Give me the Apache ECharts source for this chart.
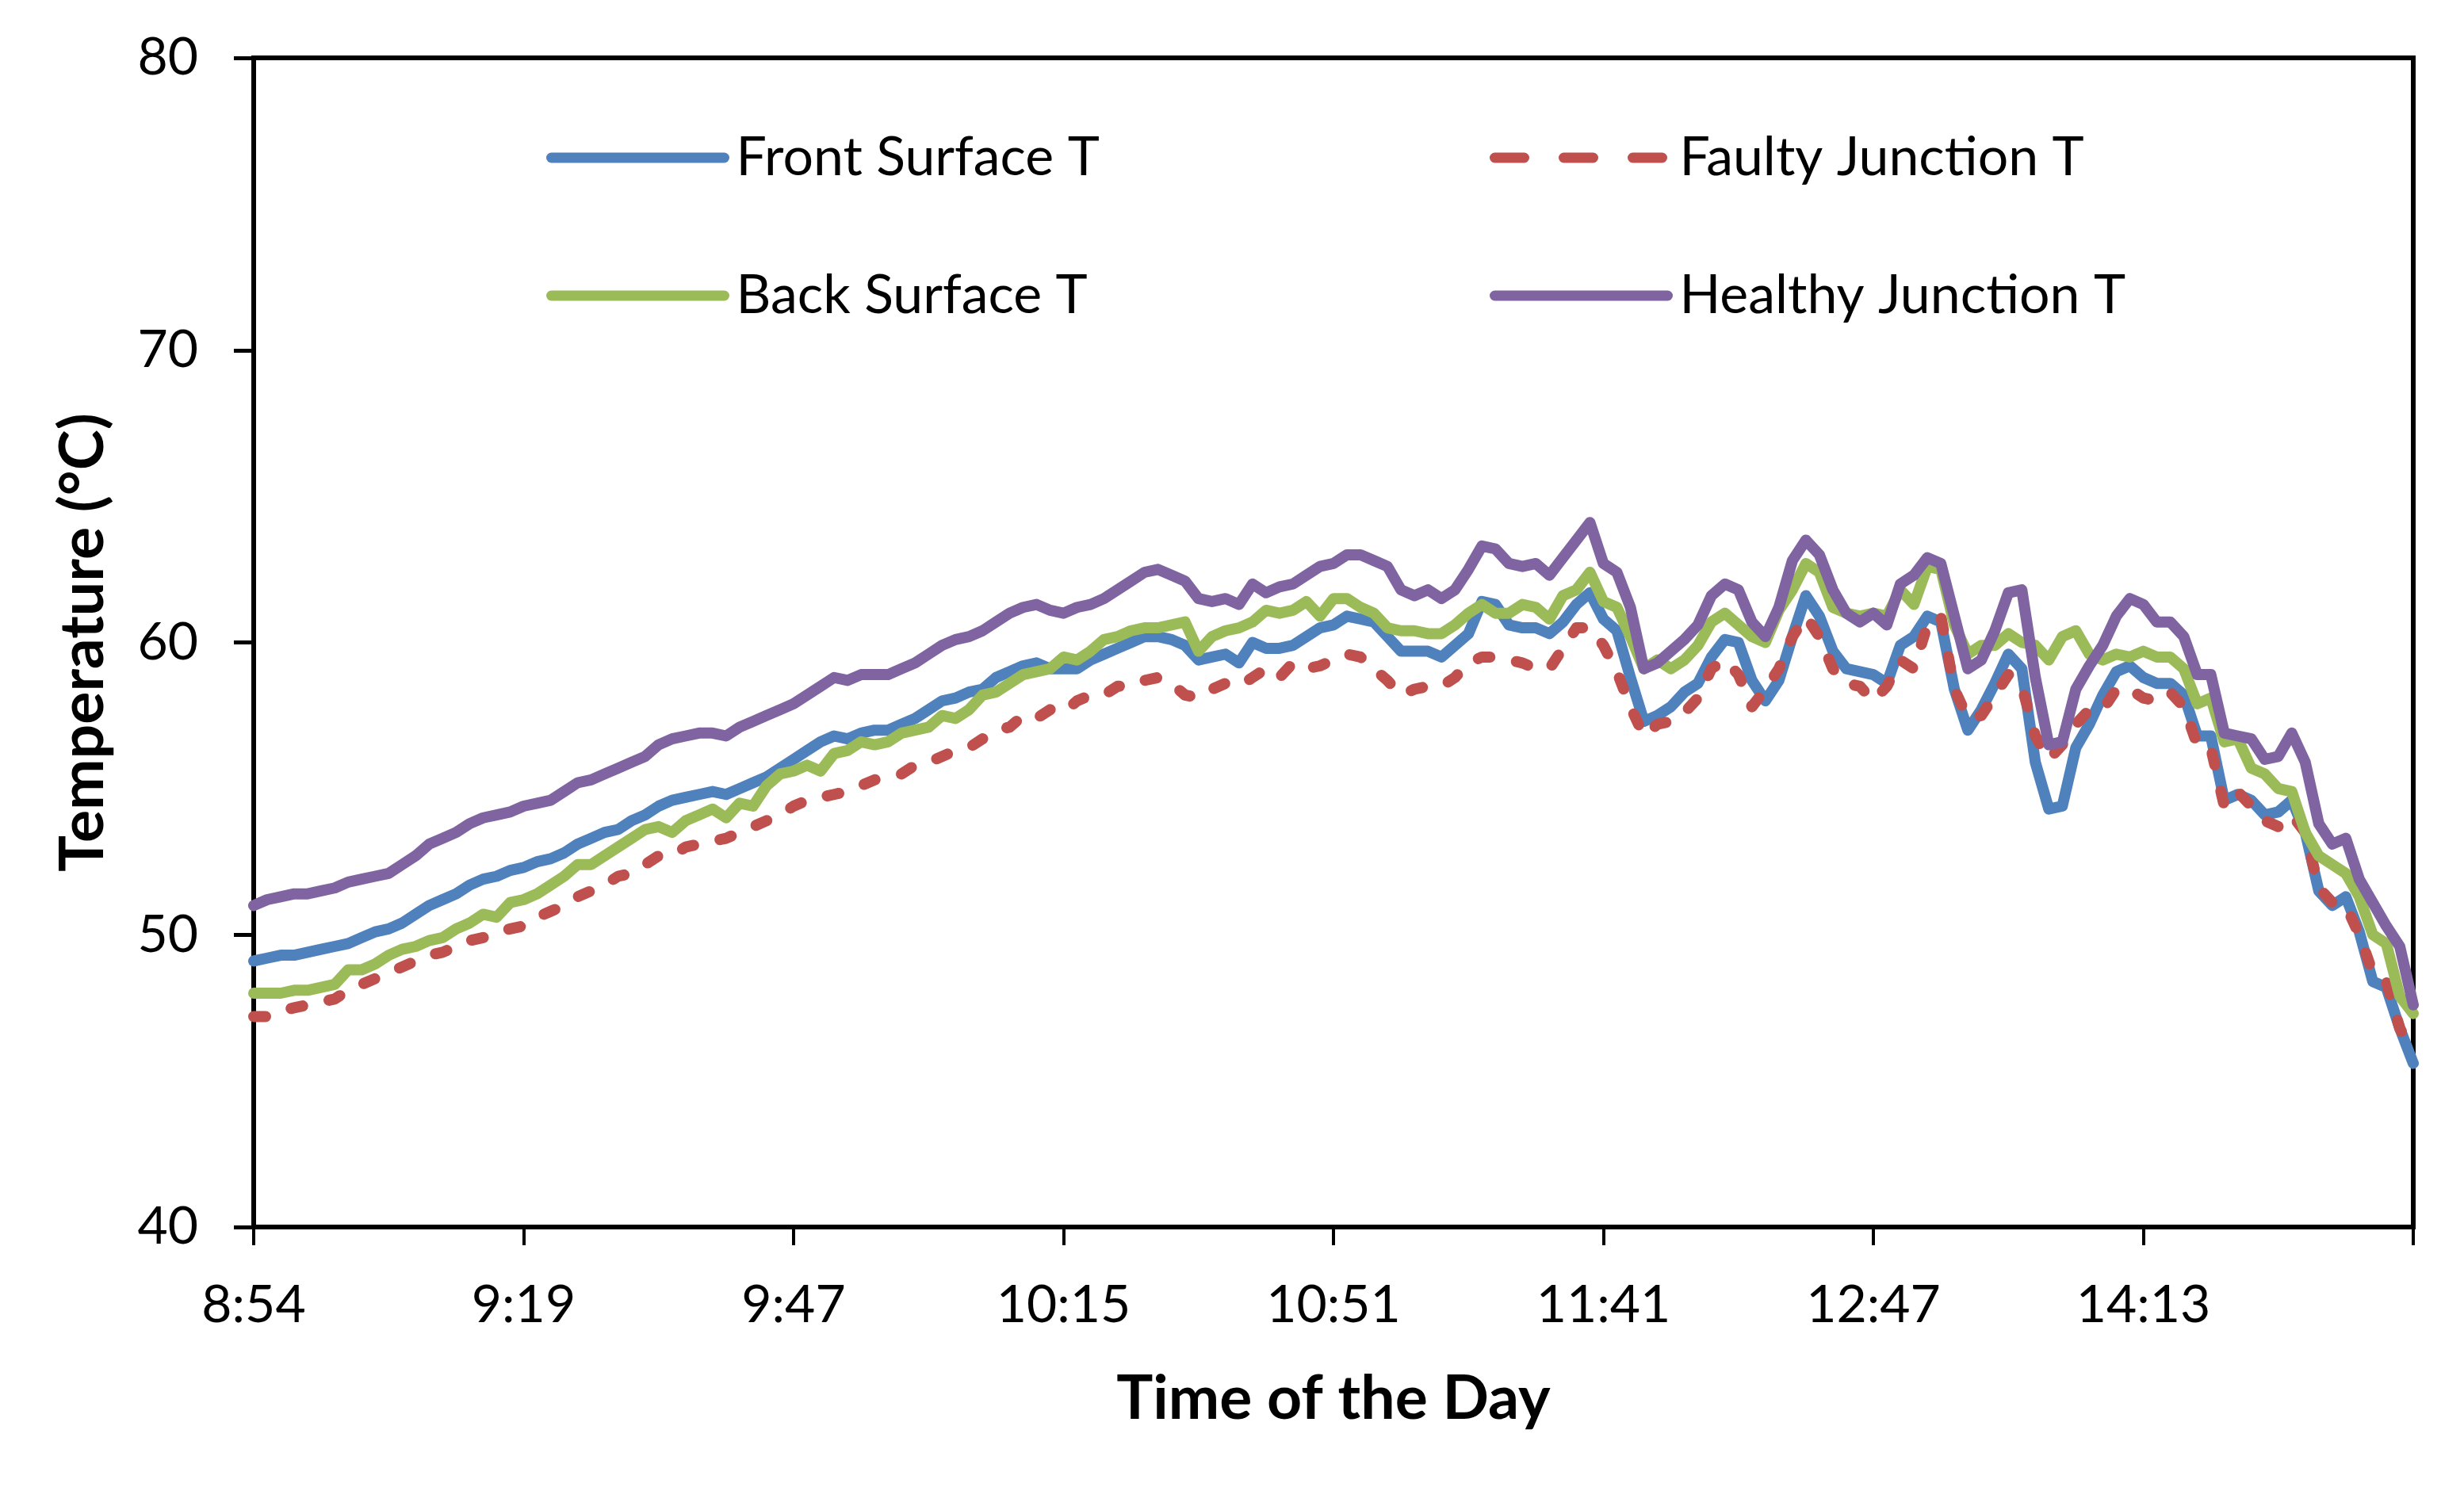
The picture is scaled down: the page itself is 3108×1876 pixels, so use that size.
<!DOCTYPE html>
<html>
<head>
<meta charset="utf-8">
<script src="https://cdn.jsdelivr.net/npm/echarts@6/dist/echarts.min.js"></script>
<style>
html,body{margin:0;padding:0;background:#fff;}
#chart{width:3108px;height:1876px;}
</style>
</head>
<body>
<div id="chart"></div>
<script>
// Tick labels shown every 20 samples along the category axis
const tickLabels = ['8:54','9:19','9:47','10:15','10:51','11:41','12:47','14:13'];
const samplesPerTick = 20;

const seriesNames = ['Front Surface T','Faulty Junction T','Back Surface T','Healthy Junction T'];

const frontSurface = [
49.1,49.2,49.3,49.3,49.4,49.5,49.6,49.7,49.9,50.1,50.2,50.4,50.7,51.0,51.2,51.4,51.7,51.9,52.0,52.2,
52.3,52.5,52.6,52.8,53.1,53.3,53.5,53.6,53.9,54.1,54.4,54.6,54.7,54.8,54.9,54.8,55.0,55.2,55.4,55.7,
56.0,56.3,56.6,56.8,56.7,56.9,57.0,57.0,57.2,57.4,57.7,58.0,58.1,58.3,58.4,58.8,59.0,59.2,59.3,59.1,
59.1,59.1,59.4,59.6,59.8,60.0,60.2,60.2,60.1,59.9,59.4,59.5,59.6,59.3,60.0,59.8,59.8,59.9,60.2,60.5,
60.6,60.9,60.8,60.7,60.2,59.7,59.7,59.7,59.5,59.9,60.3,61.4,61.3,60.6,60.5,60.5,60.3,60.7,61.3,61.7,
60.8,60.4,58.8,57.3,57.5,57.8,58.3,58.6,59.5,60.1,60.0,58.7,58.0,58.7,60.2,61.6,60.9,59.7,59.1,59.0,
58.9,58.6,59.9,60.2,60.9,60.7,58.4,57.0,57.7,58.6,59.6,59.1,55.9,54.3,54.4,56.4,57.2,58.2,59.0,59.2,
58.8,58.6,58.6,58.2,56.8,56.8,54.6,54.8,54.6,54.1,54.2,54.6,53.5,51.5,51.0,51.3,50.1,48.4,48.2,46.8,
45.6];

const faultyJunction = [
47.2,47.2,47.4,47.5,47.6,47.7,47.8,48.1,48.3,48.5,48.7,48.9,49.1,49.3,49.4,49.6,49.8,49.9,50.1,50.2,
50.3,50.6,50.8,51.0,51.3,51.5,51.7,52.0,52.1,52.4,52.7,52.7,53.0,53.1,53.2,53.3,53.5,53.7,53.9,54.1,
54.4,54.6,54.7,54.8,54.9,55.1,55.3,55.4,55.5,55.8,55.9,56.1,56.3,56.4,56.7,57.0,57.1,57.5,57.4,57.7,
57.6,58.0,58.2,58.2,58.5,58.5,58.7,58.8,58.6,58.2,58.1,58.4,58.6,58.5,58.8,59.1,58.8,59.3,59.1,59.2,
59.4,59.6,59.5,59.1,58.7,58.2,58.4,58.5,58.5,58.8,59.3,59.5,59.5,59.4,59.3,59.1,59.1,59.8,60.5,60.5,
59.9,59.0,57.8,56.8,57.2,57.3,57.6,58.1,59.1,59.4,58.9,57.8,58.4,59.1,60.2,60.9,60.2,59.1,58.6,58.5,
58.0,58.5,59.4,59.1,60.6,60.9,58.4,57.4,57.5,58.2,58.9,58.5,56.8,56.0,56.5,57.2,57.7,57.7,58.4,58.4,
58.1,58.0,58.3,57.8,56.5,56.4,54.4,54.9,54.4,53.9,53.7,54.1,53.5,51.6,51.1,51.0,50.0,48.7,48.4,46.8,
45.9];

const backSurface = [
48.0,48.0,48.0,48.1,48.1,48.2,48.3,48.8,48.8,49.0,49.3,49.5,49.6,49.8,49.9,50.2,50.4,50.7,50.6,51.1,
51.2,51.4,51.7,52.0,52.4,52.4,52.7,53.0,53.3,53.6,53.7,53.5,53.9,54.1,54.3,54.0,54.5,54.4,55.1,55.5,
55.6,55.8,55.6,56.2,56.3,56.6,56.5,56.6,56.9,57.0,57.1,57.5,57.4,57.7,58.2,58.3,58.6,58.9,59.0,59.1,
59.5,59.4,59.7,60.1,60.2,60.4,60.5,60.5,60.6,60.7,59.7,60.2,60.4,60.5,60.7,61.1,61.0,61.1,61.4,60.9,
61.5,61.5,61.2,61.0,60.5,60.4,60.4,60.3,60.3,60.6,61.0,61.3,61.0,61.0,61.3,61.2,60.8,61.6,61.8,62.4,
61.4,61.2,60.2,59.1,59.4,59.1,59.4,59.9,60.7,61.0,60.6,60.2,60.0,61.1,61.8,62.7,62.4,61.2,61.0,60.9,
61.0,60.9,61.8,61.3,62.6,62.5,60.6,59.6,59.9,59.9,60.3,60.0,59.9,59.4,60.2,60.4,59.6,59.4,59.6,59.5,
59.7,59.5,59.5,59.1,57.9,58.1,56.6,56.7,55.7,55.5,55.0,54.9,53.5,52.7,52.4,52.1,51.3,50.0,49.7,47.9,
47.3];

const healthyJunction = [
51.0,51.2,51.3,51.4,51.4,51.5,51.6,51.8,51.9,52.0,52.1,52.4,52.7,53.1,53.3,53.5,53.8,54.0,54.1,54.2,
54.4,54.5,54.6,54.9,55.2,55.3,55.5,55.7,55.9,56.1,56.5,56.7,56.8,56.9,56.9,56.8,57.1,57.3,57.5,57.7,
57.9,58.2,58.5,58.8,58.7,58.9,58.9,58.9,59.1,59.3,59.6,59.9,60.1,60.2,60.4,60.7,61.0,61.2,61.3,61.1,
61.0,61.2,61.3,61.5,61.8,62.1,62.4,62.5,62.3,62.1,61.5,61.4,61.5,61.3,62.0,61.7,61.9,62.0,62.3,62.6,
62.7,63.0,63.0,62.8,62.6,61.8,61.6,61.8,61.5,61.8,62.5,63.3,63.2,62.7,62.6,62.7,62.3,62.9,63.5,64.1,
62.7,62.4,61.2,59.1,59.3,59.7,60.1,60.6,61.6,62.0,61.8,60.7,60.2,61.2,62.8,63.5,63.0,61.8,61.0,60.7,
61.0,60.6,62.0,62.3,62.9,62.7,60.9,59.1,59.4,60.4,61.7,61.8,58.8,56.5,56.6,58.4,59.2,59.9,60.9,61.5,
61.3,60.7,60.7,60.2,58.9,58.9,56.9,56.8,56.7,56.0,56.1,56.9,55.9,53.8,53.1,53.3,51.9,51.1,50.3,49.6,
47.6];

const colors = ['#4F81BD','#C0504D','#9BBB59','#8064A2'];
const categories = frontSurface.map((_, i) => String(i));
const FONT = 'Lato';
const LINE_W = 14;

const chart = echarts.init(document.getElementById('chart'), null, {renderer: 'canvas'});

function lineSeries(name, data, color, dashed) {
  return {
    name: name,
    type: 'line',
    data: data,
    symbol: 'none',
    showSymbol: false,
    smooth: false,
    animation: false,
    lineStyle: {
      color: color,
      width: LINE_W,
      type: dashed ? [15, 34] : 'solid',
      cap: 'round',
      join: 'round'
    },
    itemStyle: {color: color},
    emphasis: {disabled: true}
  };
}

function legendItem(i, dashed) {
  return {
    name: seriesNames[i],
    itemStyle: {opacity: 0, borderWidth: 0},
    lineStyle: {color: colors[i], width: 13, type: dashed ? [37, 50] : 'solid', cap: 'round', opacity: 1}
  };
}

const legendCommon = {
  orient: 'vertical',
  itemWidth: 218,
  itemHeight: 26,
  itemGap: 106,
  textStyle: {fontFamily: FONT, fontSize: 68, color: '#000', padding: [0,0,0,10]},
  selectedMode: false
};

chart.setOption({
  animation: false,
  backgroundColor: '#fff',
  color: colors,
  textStyle: {fontFamily: FONT},
  grid: {
    left: 320, right: 64, top: 73, bottom: 328,
    show: true, borderColor: '#000', borderWidth: 6, backgroundColor: 'transparent'
  },
  legend: [
    Object.assign({}, legendCommon, {data: [legendItem(0, false), legendItem(2, false)], left: 684, top: 160}),
    Object.assign({}, legendCommon, {data: [legendItem(1, true), legendItem(3, false)], left: 1874, top: 160})
  ],
  xAxis: {
    type: 'category',
    data: categories,
    boundaryGap: false,
    name: 'Time of the Day',
    nameLocation: 'middle',
    nameGap: 179,
    nameTextStyle: {fontFamily: FONT, fontSize: 77, fontWeight: 'bold', color: '#000'},
    axisLine: {show: true, lineStyle: {color: '#000', width: 6}},
    axisTick: {show: true, interval: samplesPerTick - 1, length: 23, lineStyle: {color: '#000', width: 4}},
    axisLabel: {
      interval: samplesPerTick - 1,
      fontFamily: FONT, fontSize: 66, color: '#000', margin: 66,
      formatter: function (v) { const i = Number(v); return (i % samplesPerTick === 0 && tickLabels[i / samplesPerTick]) ? tickLabels[i / samplesPerTick] : ''; }
    },
    splitLine: {show: false}
  },
  yAxis: {
    type: 'value',
    min: 40, max: 80, interval: 10,
    name: 'Temperature (°C)',
    nameLocation: 'middle',
    nameGap: 176,
    nameTextStyle: {fontFamily: FONT, fontSize: 77, fontWeight: 'bold', color: '#000'},
    axisLine: {show: true, lineStyle: {color: '#000', width: 6}},
    axisTick: {show: true, length: 25, lineStyle: {color: '#000', width: 5}},
    axisLabel: {fontFamily: FONT, fontSize: 66, color: '#000', margin: 70},
    splitLine: {show: false}
  },
  series: [
    lineSeries(seriesNames[0], frontSurface, colors[0], false),
    lineSeries(seriesNames[1], faultyJunction, colors[1], true),
    lineSeries(seriesNames[2], backSurface, colors[2], false),
    lineSeries(seriesNames[3], healthyJunction, colors[3], false)
  ]
});
</script>
</body>
</html>
